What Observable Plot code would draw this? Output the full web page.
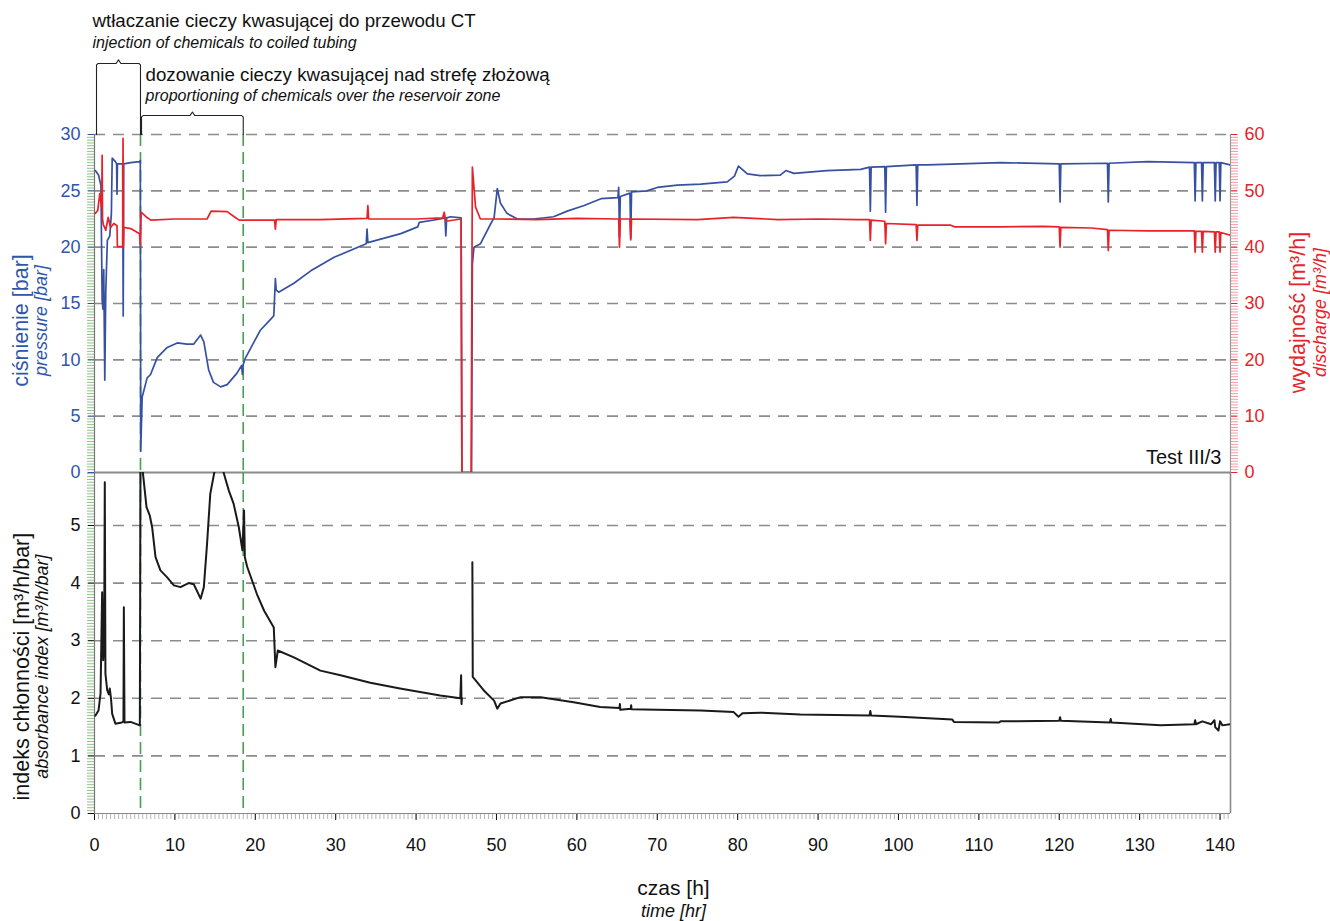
<!DOCTYPE html>
<html><head><meta charset="utf-8">
<script src="https://cdn.jsdelivr.net/npm/d3@7"></script>
<script src="https://cdn.jsdelivr.net/npm/@observablehq/plot@0.6"></script>
<style>
body{margin:0;background:#fff;}
#wrap{position:relative;width:1330px;height:921px;}
#wrap svg{position:absolute;left:0;}
</style></head><body><div id="wrap"></div>
<script>
// ---- data (time in hours) ----
const pressureT = [0.1,0.5,0.8,0.95,1.05,1.15,1.28,1.4,1.6,1.9,2.1,2.2,2.6,2.75,2.8,2.85,3.2,3.5,3.57,3.64,4.5,5.6,5.7,5.75,5.93,6.55,6.97,7.8,9.04,10.3,11.5,12.35,13.2,13.6,14.2,14.8,15.7,16.5,17.7,18.3,18.4,18.5,18.8,20.6,22.3,22.5,22.6,22.9,24.8,26.9,29.8,33.8,33.9,34.0,38.1,40.2,40.4,43.0,43.6,43.7,43.8,44.3,45.6,45.7,46.9,47.0,47.2,48.0,49.3,49.7,50.1,50.5,51.3,52.6,54.6,57.1,58.8,60.9,63,65.1,65.2,65.3,65.4,66.6,66.7,66.8,68.7,70,72.5,75.4,78.7,79.6,80.1,81.2,82.8,85.3,86,87,91.1,95.3,96.4,96.5,96.6,98.3,98.4,98.5,102.2,102.3,102.4,103.6,107.7,112.7,120.0,120.1,120.2,126.0,126.1,126.2,131,136.8,136.9,137.0,137.7,137.8,137.9,139.3,139.4,139.5,139.9,140.0,140.1,141.3];
const pressureV = [26.8,26.4,25.5,15.3,14.5,18,8.2,16,20.6,21,23,27.9,27.6,27.4,24.7,27.4,27.4,27.4,13.9,27.4,27.5,27.6,27.7,1.9,6.7,8.4,8.7,10.2,11.1,11.5,11.4,11.4,12.2,11.6,9.1,8.0,7.6,7.8,8.8,9.5,8.7,9.6,10.2,12.6,13.9,17.2,16.2,16.0,16.8,17.9,19.1,20.3,21.6,20.4,21.2,21.8,22.2,22.5,22.6,21.0,22.6,22.7,22.6,0,0,18.5,20.0,20.3,22.1,22.6,25.2,23.9,23.0,22.5,22.5,22.7,23.2,23.7,24.3,24.4,25.3,20.9,24.5,24.8,20.8,24.9,25.0,25.3,25.5,25.6,25.8,26.3,27.2,26.5,26.35,26.4,26.8,26.55,26.8,26.9,27.1,23.2,27.1,27.15,23.1,27.15,27.3,23.7,27.3,27.3,27.4,27.5,27.4,24.0,27.4,27.45,24.0,27.45,27.6,27.5,24.1,27.5,27.5,24.1,27.5,27.5,24.1,27.5,27.5,24.1,27.5,27.3];

const dischargeT = [0.1,0.4,0.66,0.9,0.95,1.0,1.1,1.4,1.7,2.0,2.4,2.8,2.85,3.5,3.55,3.6,3.65,4.5,5.6,5.7,5.8,6.5,7,10,12,14,14.5,16.5,17.3,18,22.4,22.5,22.6,28,33.9,34.0,34.1,40,43.3,43.5,43.7,45.6,45.7,46.85,47.0,47.4,48,50,55,60,65.2,65.3,65.4,66.6,66.7,66.8,75,79.5,85,90,95,96.4,96.5,96.6,98.3,98.4,98.5,102.2,102.3,102.4,106.5,107,112.7,118,120.0,120.1,120.2,124,126.0,126.1,126.2,131,136.8,136.9,137.0,137.7,137.8,137.9,139.3,139.4,139.5,139.9,140.0,140.1,141.3];
const dischargeV = [46,46.5,49.5,47,56.3,45,44,43,45.3,43.5,44.2,43.8,40.1,40.1,59.3,40,43.5,43.3,42.4,40.3,46.2,45.3,44.8,45,45,45,46.4,46.3,45.5,44.8,44.8,43.2,44.9,44.9,45.1,47.4,45,45,45.2,46.2,44.6,45,0,0,54.2,47.1,45,45,44.9,45.1,45,40,45,45,41.3,45,44.9,45.3,44.9,45,44.9,44.9,41.2,44.8,44.6,40.6,44.2,44,41.2,43.9,43.9,43.6,43.6,43.7,43.6,40.0,43.5,43.4,43.1,39.4,43.0,42.9,42.9,39.1,42.8,42.8,39.1,42.8,42.7,39.1,42.7,42.7,39.1,42.6,42.1];

const indexT = [0.12,0.5,0.75,0.95,1.08,1.2,1.28,1.36,1.58,1.78,1.9,2.05,2.2,2.6,3.4,3.6,3.65,3.73,4.48,5.64,5.72,6.1,6.47,6.88,7.17,7.59,8.2,9.04,9.87,10.7,11.7,12.35,13.2,13.6,14.0,14.4,14.9,15.5,16.1,16.7,17.3,17.95,18.4,18.6,18.7,19.0,20.2,21.1,22.3,22.5,22.8,24.8,28.1,30.6,34.3,38,43,45.5,45.6,45.65,45.7,46.3,47.0,47.05,48.4,49.7,50.1,50.5,53.0,55.5,59.6,62.9,65.3,65.35,65.4,66.7,66.75,66.8,70,75.4,79.5,80.1,80.6,82.8,87.8,96.4,96.5,96.6,100.2,106.7,106.9,112.5,112.7,120.0,120.1,120.2,126.3,126.4,126.5,132.6,136.8,136.9,137.0,137.8,138.9,139.3,139.4,139.8,140.0,140.3,141.3];
const indexV = [1.70,1.79,2.08,3.84,2.66,3.0,5.75,2.43,2.14,2.07,2.17,2.0,1.73,1.56,1.58,1.60,3.58,1.58,1.59,1.53,6.3,5.81,5.32,5.17,4.97,4.45,4.22,4.10,3.96,3.93,4.00,3.98,3.73,3.93,4.68,5.55,5.92,6.2,5.9,5.61,5.38,4.97,4.57,5.26,4.45,4.28,3.81,3.52,3.23,2.54,2.83,2.71,2.48,2.40,2.27,2.17,2.05,2.0,2.4,1.9,2.0,NaN,4.36,2.37,2.14,1.96,1.82,1.91,2.02,2.02,1.93,1.85,1.83,1.9,1.8,1.82,1.88,1.81,1.80,1.79,1.76,1.68,1.74,1.75,1.72,1.70,1.78,1.70,1.68,1.63,1.59,1.58,1.6,1.61,1.67,1.61,1.58,1.64,1.58,1.53,1.55,1.62,1.55,1.6,1.55,1.62,1.5,1.44,1.6,1.53,1.55];

const phaseStart = [0.25, 5.85];
const phaseEnd = [5.72, 18.5];
const phaseLines = [5.72, 18.5];
const phaseLabelPL = ["wtłaczanie cieczy kwasującej do przewodu CT", "dozowanie cieczy kwasującej nad strefę złożową"];
const phaseLabelEN = ["injection of chemicals to coiled tubing", "proportioning of chemicals over the reservoir zone"];

const xTicks = d3.range(0, 141, 10);
const pressureTicks = d3.range(0, 31, 5);
const indexTicks = d3.range(0, 6, 1);
const xMax = 141.3;

// ---- styles ----
const BLUE = "#3651a2", BLUE_T = "#2f55ad", RED = "#e8222a", BLACK = "#1a1a1a";
const GRID = "#8c8c8c", GREEN = "#45a052";
const FONT = "Liberation Sans, Arial, sans-serif";

const pressure = pressureT.map((t, i) => ({t, v: pressureV[i]}));
const discharge = dischargeT.map((t, i) => ({t, v: dischargeV[i]}));
const absorb = indexT.map((t, i) => ({t, v: indexV[i]}));

function bracket(x1, x2, yb, yt, peak) {
  const m = (x1 + x2) / 2;
  return [[x1, yb], [x1, yt - 0.12], [x1 + 0.2, yt], [m - 0.3, yt], [m, yt + peak], [m + 0.3, yt], [x2 - 0.2, yt], [x2, yt - 0.12], [x2, yb]];
}
const bracketTops = [36.3, 31.68];
const brackets = phaseStart.map((s, i) => bracket(s, phaseEnd[i], 30, bracketTops[i], 0.32).map(([x, y]) => ({x, y, k: i})));

const commonStyle = {fontFamily: FONT, fontSize: "18px", background: "transparent", overflow: "visible"};
const T = d => d;

const topPlot = Plot.plot({
  width: 1330, height: 490,
  marginLeft: 94, marginRight: 100, marginTop: 134, marginBottom: 18,
  style: commonStyle,
  x: {domain: [0, xMax], axis: null},
  y: {domain: [0, 30], axis: null},
  marks: [
    Plot.ruleY(pressureTicks.filter(d => d > 0), {stroke: GRID, strokeWidth: 1.6, strokeDasharray: "11,8"}),
    Plot.ruleX(phaseLines, {stroke: GREEN, strokeWidth: 1.6, strokeDasharray: "12,6"}),
    Plot.axisY(d3.range(0, 30.01, 0.25), {anchor: "left", tickSize: 7, color: "#93c08c", strokeOpacity: 1, tickFormat: () => "", label: null}),
    Plot.axisY(d3.range(0, 30.01, 0.25), {anchor: "right", tickSize: 7, color: "#f19aa2", strokeOpacity: 1, tickFormat: () => "", label: null}),
    Plot.axisY(pressureTicks, {anchor: "left", tickSize: 6, tickPadding: 8, color: BLUE_T, fontSize: 18, label: null}),
    Plot.axisY(pressureTicks, {anchor: "right", tickSize: 6, tickPadding: 8, color: RED, fontSize: 18, label: null, tickFormat: d => d * 2}),
    Plot.ruleX([0], {stroke: "#777", strokeWidth: 1.2}),
    Plot.ruleX([xMax], {stroke: "#999", strokeWidth: 1.2}),
    Plot.ruleY([0], {stroke: "#8a8a8a", strokeWidth: 1.8}),
    Plot.line(pressure, {x: "t", y: "v", stroke: BLUE, strokeWidth: 1.7, clip: true}),
    Plot.line(discharge, {x: "t", y: d => d.v / 2, stroke: RED, strokeWidth: 1.7, clip: true}),
    ...brackets.map(b => Plot.line(b, {x: "x", y: "y", stroke: "#222", strokeWidth: 1.1})),
    Plot.text([phaseLabelPL[0]], {frameAnchor: "top-left", dx: -2, dy: -113, text: T, textAnchor: "start", lineAnchor: "middle", fontSize: 18.7, fill: "#111"}),
    Plot.text([phaseLabelEN[0]], {frameAnchor: "top-left", dx: -2, dy: -92, text: T, textAnchor: "start", lineAnchor: "middle", fontSize: 16, fontStyle: "italic", fill: "#111"}),
    Plot.text([phaseLabelPL[1]], {frameAnchor: "top-left", dx: 51, dy: -59, text: T, textAnchor: "start", lineAnchor: "middle", fontSize: 18.7, fill: "#111"}),
    Plot.text([phaseLabelEN[1]], {frameAnchor: "top-left", dx: 51, dy: -39, text: T, textAnchor: "start", lineAnchor: "middle", fontSize: 16, fontStyle: "italic", fill: "#111"}),
    Plot.text(["Test III/3"], {frameAnchor: "bottom-right", dx: -9, dy: -15, text: T, textAnchor: "end", lineAnchor: "middle", fontSize: 20, fill: "#111"}),
    Plot.text(["ciśnienie [bar]"], {frameAnchor: "left", dx: -73, dy: 17, rotate: -90, text: T, textAnchor: "middle", lineAnchor: "middle", fontSize: 21.5, fill: BLUE_T}),
    Plot.text(["pressure [bar]"], {frameAnchor: "left", dx: -53, dy: 17, rotate: -90, text: T, textAnchor: "middle", lineAnchor: "middle", fontSize: 18, fontStyle: "italic", fill: BLUE_T}),
    Plot.text(["wydajność [m³/h]"], {frameAnchor: "right", dx: 68, dy: 9, rotate: -90, text: T, textAnchor: "middle", lineAnchor: "middle", fontSize: 21.5, fill: RED}),
    Plot.text(["discharge [m³/h]"], {frameAnchor: "right", dx: 90, dy: 9, rotate: -90, text: T, textAnchor: "middle", lineAnchor: "middle", fontSize: 18, fontStyle: "italic", fill: RED})
  ]
});
topPlot.style.top = "0px";

const bottomPlot = Plot.plot({
  width: 1330, height: 449,
  marginLeft: 94, marginRight: 100, marginTop: 0, marginBottom: 108,
  style: commonStyle,
  x: {domain: [0, xMax], axis: null},
  y: {domain: [0, 5.92], axis: null},
  marks: [
    Plot.ruleY(indexTicks.filter(d => d > 0), {stroke: GRID, strokeWidth: 1.6, strokeDasharray: "11,8"}),
    Plot.ruleX(phaseLines, {stroke: GREEN, strokeWidth: 1.6, strokeDasharray: "12,6"}),
    Plot.axisY(d3.range(0, 5.92, 0.05), {anchor: "left", tickSize: 7, color: "#93c08c", strokeOpacity: 1, tickFormat: () => "", label: null}),
    Plot.axisX(d3.range(0, 141.01, 0.5), {anchor: "bottom", tickSize: 6, color: "#b5b5b5", strokeOpacity: 1, tickFormat: () => "", label: null}),
    Plot.axisY(indexTicks, {anchor: "left", tickSize: 6, tickPadding: 8, color: "#111", fontSize: 18, label: null, tickFormat: d3.format("d")}),
    Plot.axisX(xTicks, {anchor: "bottom", tickSize: 7, tickPadding: 18, color: "#111", fontSize: 18, label: null, tickFormat: d3.format("d")}),
    Plot.ruleX([0], {stroke: "#777", strokeWidth: 1.2}),
    Plot.ruleX([xMax], {stroke: "#8a8a8a", strokeWidth: 1.6}),
    Plot.ruleY([0], {stroke: "#888", strokeWidth: 1.2}),
    Plot.line(absorb, {x: "t", y: "v", stroke: BLACK, strokeWidth: 2, clip: true}),
    Plot.text(["indeks chłonności [m³/h/bar]"], {frameAnchor: "left", dx: -72, y: [2.55], rotate: -90, text: T, textAnchor: "middle", lineAnchor: "middle", fontSize: 21.5, fill: "#111"}),
    Plot.text(["absorbance index [m³/h/bar]"], {frameAnchor: "left", dx: -52, y: [2.55], rotate: -90, text: T, textAnchor: "middle", lineAnchor: "middle", fontSize: 18, fontStyle: "italic", fill: "#111"}),
    Plot.text(["czas [h]"], {frameAnchor: "bottom", dx: 11, dy: 75, text: T, lineAnchor: "middle", fontSize: 21, fill: "#111"}),
    Plot.text(["time [hr]"], {frameAnchor: "bottom", dx: 11, dy: 98, text: T, lineAnchor: "middle", fontSize: 18, fontStyle: "italic", fill: "#111"})
  ]
});
bottomPlot.style.top = "472px";

const wrap = document.getElementById("wrap");
wrap.appendChild(topPlot);
wrap.appendChild(bottomPlot);
</script>
</body></html>
